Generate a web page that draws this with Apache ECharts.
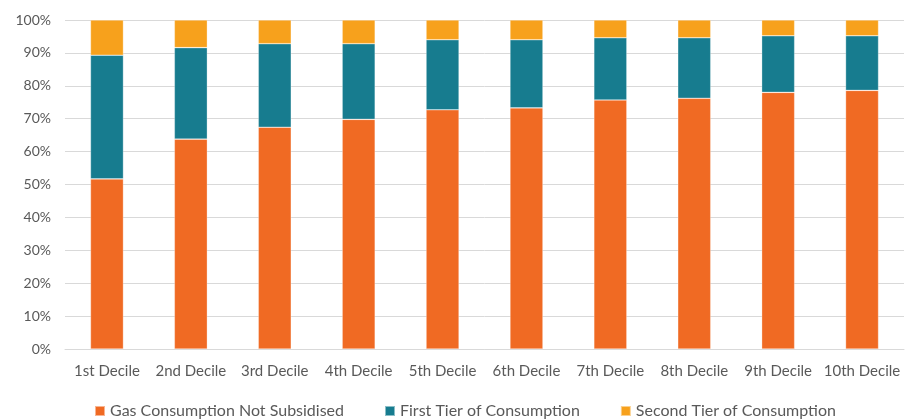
<!DOCTYPE html>
<html>
<head>
<meta charset="utf-8">
<script src="https://cdn.jsdelivr.net/npm/echarts@6/dist/echarts.min.js"></script>
<style>
  html, body { margin: 0; padding: 0; background: #fff; }
  #chart { width: 906px; height: 419px; }
</style>
</head>
<body>
<div id="chart"></div>
<script>
// Share of household gas consumption by income decile (%)
const categories = ['1st Decile', '2nd Decile', '3rd Decile', '4th Decile', '5th Decile',
  '6th Decile', '7th Decile', '8th Decile', '9th Decile', '10th Decile'];
const notSubsidised = [51.7, 63.8, 67.4, 69.8, 72.7, 73.3, 75.7, 76.2, 78.0, 78.6];
const firstTier = [37.6, 27.8, 25.4, 23.0, 21.3, 20.7, 18.9, 18.4, 17.2, 16.6];
const secondTier = [10.7, 8.4, 7.2, 7.2, 6.0, 6.0, 5.4, 5.4, 4.8, 4.8];
const yTicks = [0, 10, 20, 30, 40, 50, 60, 70, 80, 90, 100];

const font = 'Lato, "Open Sans", sans-serif';
const textColor = '#595959';

function barSeries(name, data, color) {
  return {
    name: name,
    type: 'bar',
    stack: 'total',
    data: data,
    barWidth: 33,
    itemStyle: { color: color, borderColor: 'rgba(255,255,255,0.5)', borderWidth: 0.6 }
  };
}

const chart = echarts.init(document.getElementById('chart'), null, { renderer: 'canvas' });
chart.setOption({
  animation: false,
  textStyle: { fontFamily: font },
  grid: { left: 65, right: 2, top: 20, bottom: 70, containLabel: false },
  legend: {
    top: 398,
    left: 89,
    padding: [5, 5, 5, 5],
    itemWidth: 10,
    itemHeight: 10,
    itemGap: 40,
    icon: 'rect',
    textStyle: { color: textColor, fontSize: 16, fontFamily: font },
    data: ['Gas Consumption Not Subsidised', 'First Tier of Consumption', 'Second Tier of Consumption']
  },
  xAxis: {
    type: 'category',
    data: categories,
    axisLine: { lineStyle: { color: '#d9d9d9', width: 1 } },
    axisTick: { show: false },
    axisLabel: { color: textColor, fontSize: 15, margin: 15, interval: 0, fontFamily: font }
  },
  yAxis: {
    type: 'value',
    min: yTicks[0],
    max: yTicks[yTicks.length - 1],
    interval: yTicks[1] - yTicks[0],
    axisLine: { show: false },
    axisTick: { show: false },
    splitLine: { lineStyle: { color: '#d9d9d9', width: 1 } },
    axisLabel: { color: textColor, fontSize: 14, margin: 14, fontFamily: font, formatter: '{value}%' }
  },
  series: [
    barSeries('Gas Consumption Not Subsidised', notSubsidised, '#F06A23'),
    barSeries('First Tier of Consumption', firstTier, '#177C8F'),
    barSeries('Second Tier of Consumption', secondTier, '#F7A11C')
  ]
});
</script>
</body>
</html>
